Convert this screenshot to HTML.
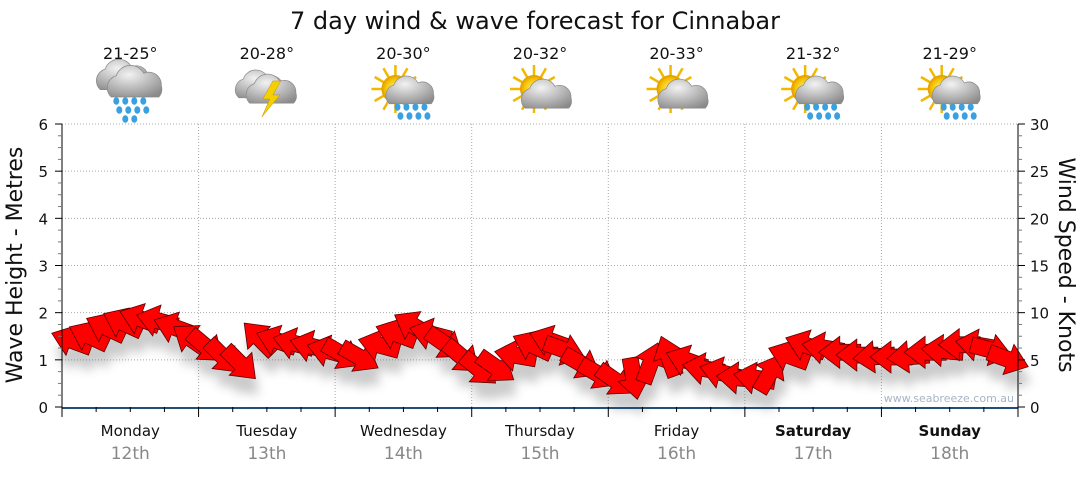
<!DOCTYPE html>
<html><head><meta charset="utf-8"><style>
body{margin:0;background:#fff;}
svg text{font-family:"DejaVu Sans","Liberation Sans",sans-serif;}
</style></head><body>
<svg id="chart" width="1080" height="475" viewBox="0 0 1080 475" xmlns="http://www.w3.org/2000/svg">
<defs>
<filter id="sh" x="-50%" y="-50%" width="200%" height="250%"><feGaussianBlur stdDeviation="5"/></filter>
<radialGradient id="cg" cx="0.4" cy="0.3" r="0.8"><stop offset="0" stop-color="#f2f2f2"/><stop offset="1" stop-color="#8a8a8a"/></radialGradient>
<radialGradient id="sg" cx="0.5" cy="0.5" r="0.5"><stop offset="0" stop-color="#fff3a0"/><stop offset="0.7" stop-color="#f7c400"/><stop offset="1" stop-color="#e09a00"/></radialGradient>
</defs>
<text x="535" y="29" font-size="24" text-anchor="middle" fill="#111">7 day wind &amp; wave forecast for Cinnabar</text>
<g id="grid"></g>
<g id="icons"></g>
<g id="shadows" filter="url(#sh)" opacity="0.3"></g>
<g id="arrows"></g>
<g id="axes"></g>
<text transform="translate(22,265) rotate(-90)" font-size="22" text-anchor="middle" fill="#111">Wave Height - Metres</text>
<text transform="translate(1059,265) rotate(90)" font-size="22" text-anchor="middle" fill="#111">Wind Speed - Knots</text>
<text x="1014" y="402" font-size="11" text-anchor="end" fill="#a8b4c4">www.seabreeze.com.au</text>
</svg>
<script>
const days=["Monday","Tuesday","Wednesday","Thursday","Friday","Saturday","Sunday"];
const dates=["12th","13th","14th","15th","16th","17th","18th"];
const temps=["21-25°","20-28°","20-30°","20-32°","20-33°","21-32°","21-29°"];
const icons=["rain","storm","sunrain","suncloud","suncloud","sunrain","sunrain"];
const waveTicks=[0,1,2,3,4,5,6];
const windTicks=[0,5,10,15,20,25,30];
const windSpeed=[7.1,7.6,8.5,9.0,9.4,9.2,8.5,7.3, 6.3,5.2,4.5,7.4,7.1,6.8,6.5,6.0, 5.5,5.2,6.6,7.8,8.7,7.8,6.6,5.2, 3.9,4.1,5.5,6.6,7.1,6.0,4.5,3.4, 2.7,2.9,4.8,5.5,5.0,4.1,3.7,3.1, 3.1,3.7,5.5,6.6,6.3,5.8,5.5,5.3, 5.3,5.3,5.8,6.0,6.6,6.6,6.0,5.0];
const windDir=[200,205,205,205,200,195,200,215, 40,45,45,225,200,195,195,195, 30,30,195,200,210,195,35,40, 40,35,190,205,200,20,30,30, 35,80,290,250,200,190,195,185, 190,300,200,200,190,180,180,175, 180,175,180,185,180,190,15,20];
const ns="http://www.w3.org/2000/svg";
const X0=62,X1=1018,Y0=407,Y1=124;
const dayW=(X1-X0)/7;
const yW=v=>Y0-v/6*(Y0-Y1);
const yK=k=>Y0-k/30*(Y0-Y1);
const xT=i=>X0+(i+0.5)*dayW/8;
function mk(tag,attrs,parent){const e=document.createElementNS(ns,tag);for(const k in attrs)e.setAttribute(k,attrs[k]);parent.appendChild(e);return e;}
const grid=document.getElementById('grid'),axes=document.getElementById('axes');
waveTicks.forEach(v=>{if(v>0){const l=mk('line',{x1:X0,x2:X1,y1:yW(v),y2:yW(v),stroke:'#aaa','stroke-dasharray':'1,2'},grid);

}});
for(let d=1;d<7;d++){const l=mk('line',{x1:X0+d*dayW,x2:X0+d*dayW,y1:Y1,y2:Y0,stroke:'#aaa','stroke-dasharray':'1,2'},grid);

}
mk('line',{x1:X0,x2:X0,y1:Y1,y2:Y0,stroke:'#000'},axes);
mk('line',{x1:X1,x2:X1,y1:Y1,y2:Y0,stroke:'#000'},axes);
for(let m=0;m<=24;m++){const y=Y0-m*(Y0-Y1)/24;const big=m%4==0;
mk('line',{x1:X0-(big?7:4),x2:X0,y1:y,y2:y,stroke:big?'#000':'#777'},axes);
mk('line',{x1:X1,x2:X1+(big?7:4),y1:y,y2:y,stroke:big?'#000':'#777'},axes);}
waveTicks.forEach(v=>{const t=mk('text',{x:48,y:yW(v)+6,'font-size':15,'text-anchor':'end',fill:'#111'},axes);t.textContent=v;

});
windTicks.forEach(v=>{const t=mk('text',{x:1030,y:yK(v)+6,'font-size':15,fill:'#111'},axes);t.textContent=v;

});
mk('line',{x1:X0,x2:X1,y1:Y0+1,y2:Y0+1,stroke:'#1f4f7a','stroke-width':2},axes);
for(let q=0;q<=28;q++){const x=X0+q*dayW/4;const big=q%4==0;mk('line',{x1:x,x2:x,y1:Y0,y2:Y0+(big?10:5),stroke:'#000'},axes);}
days.forEach((d,i)=>{const cx=X0+(i+0.5)*dayW;
const t=mk('text',{x:cx,y:436,'font-size':15,'text-anchor':'middle',fill:'#111','font-weight':i>=5?'bold':'normal'},axes);t.textContent=d;


const t2=mk('text',{x:cx,y:459,'font-size':17,'text-anchor':'middle',fill:'#888'},axes);t2.textContent=dates[i];


const t3=mk('text',{x:cx,y:59,'font-size':16,'text-anchor':'middle',fill:'#111'},axes);t3.textContent=temps[i];


drawIcon(icons[i],cx,95);});
function cloud(g,x,y,s){const c=mk('g',{transform:`translate(${x},${y}) scale(${s})`},g);
mk('path',{d:'M-20,8 a10,10 0 0,1 4,-17 a12,12 0 0,1 22,-2 a10,10 0 0,1 14,10 a9,9 0 0,1 -2,9 z',fill:'url(#cg)',stroke:'#888','stroke-width':0.6},c);}
function sun(g,x,y){for(let a=0;a<360;a+=30){const r=a*Math.PI/180;mk('line',{x1:x+Math.cos(r)*13,y1:y+Math.sin(r)*13,x2:x+Math.cos(r)*24,y2:y+Math.sin(r)*24,stroke:'#f2b800','stroke-width':2.5},g);}mk('circle',{cx:x,cy:y,r:14,fill:'url(#sg)'},g);}
function drops(g,x,y,n){for(let r=0;r<n;r++)for(let c=0;c<4;c++){if(r==2&&(c==0||c==3))continue;mk('ellipse',{cx:x-14+c*9+(r%2)*3,cy:y+r*9,rx:3,ry:3.8,fill:'#3aa0e0'},g);}}
function drawIcon(type,cx,cy){const g=mk('g',{},document.getElementById('icons'));


if(type=='rain'){cloud(g,cx-6,cy-15,1.2);cloud(g,cx+6,cy-8,1.25);drops(g,cx,cy+6,3);}
else if(type=='storm'){cloud(g,cx-6,cy-6,1.1);cloud(g,cx+6,cy-1,1.15);mk('path',{d:`M${cx+6},${cy-14} l-10,18 h7 l-8,18 l18,-22 h-7 l8,-14 z`,fill:'#f5d000',stroke:'#c89000','stroke-width':0.5},g);}
else if(type=='sunrain'){sun(g,cx-8,cy-6);cloud(g,cx+8,cy,1.1);drops(g,cx+8,cy+12,2);}
else {sun(g,cx-6,cy-6);cloud(g,cx+8,cy+4,1.15);}}
const arrowPath="M20,0 L-1,-16 L-1,-8 L-22,-8 L-22,8 L-1,8 L-1,16 Z";
const sh=document.getElementById('shadows'),ar=document.getElementById('arrows');
windSpeed.forEach((k,i)=>{const x=xT(i),y=yK(k),a=windDir[i];
mk('path',{d:arrowPath,transform:`translate(${x+3},${y+16}) rotate(${a})`,fill:'#555'},sh);
const p=mk('path',{d:arrowPath,transform:`translate(${x},${y}) rotate(${a})`,fill:'#ff0000',stroke:'#5a0000','stroke-width':0.8},ar);

});
</script>
</body></html>
